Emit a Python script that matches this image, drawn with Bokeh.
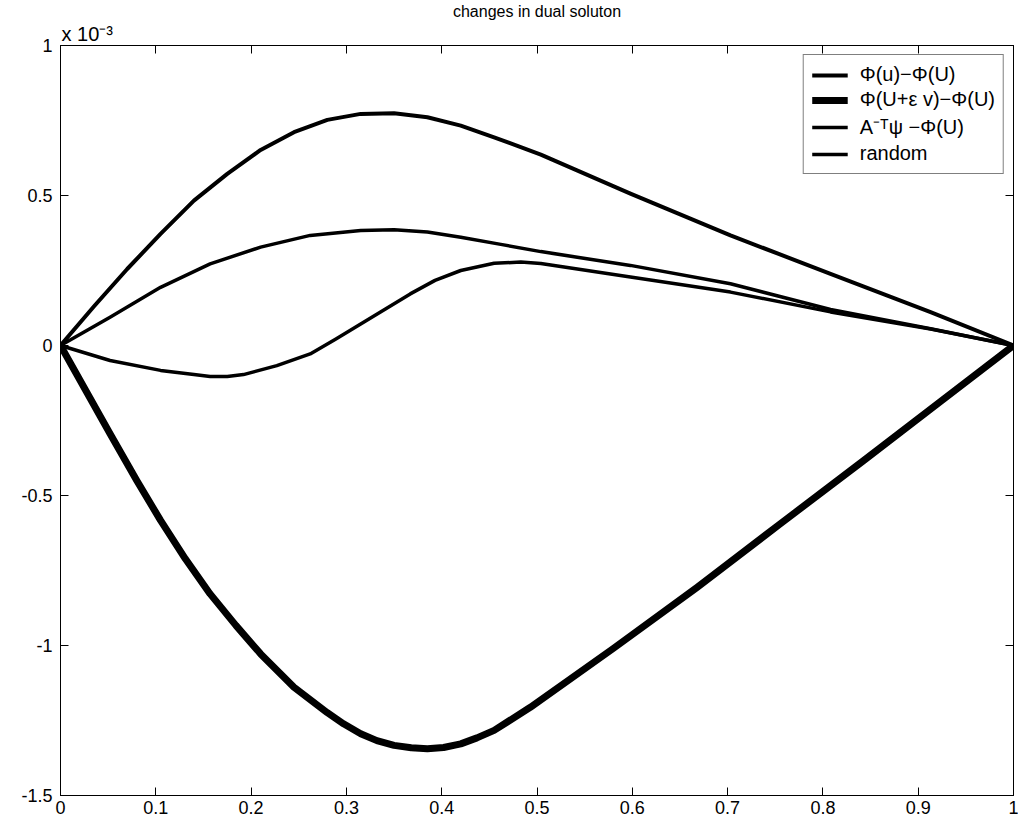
from bokeh.plotting import figure
from bokeh.models import Range1d, LinearAxis, FixedTicker, Legend, LegendItem, Title
from bokeh.embed import file_html
from bokeh.resources import INLINE

FONT = "Liberation Sans"

# ---- data (y values in units of 1e-3) ----
x_phi_u = [0.0, 0.035, 0.070, 0.105, 0.140, 0.175, 0.210, 0.245, 0.280, 0.315, 0.350,
           0.385, 0.420, 0.455, 0.504, 0.598, 0.703, 0.808, 0.913, 1.0]
y_phi_u = [0.0, 0.130, 0.255, 0.372, 0.483, 0.572, 0.652, 0.711, 0.752, 0.772, 0.774,
           0.761, 0.733, 0.694, 0.636, 0.506, 0.367, 0.239, 0.111, 0.0]

x_phi_ev = [0.0, 0.052, 0.080, 0.105, 0.131, 0.157, 0.184, 0.210, 0.245, 0.280, 0.297,
            0.315, 0.332, 0.350, 0.368, 0.385, 0.402, 0.420, 0.437, 0.455, 0.493,
            0.580, 0.668, 0.755, 0.843, 0.920, 1.0]
y_phi_ev = [0.0, -0.294, -0.450, -0.583, -0.711, -0.828, -0.933, -1.028, -1.139, -1.224,
            -1.261, -1.294, -1.317, -1.333, -1.341, -1.344, -1.340, -1.328, -1.308,
            -1.283, -1.206, -1.010, -0.806, -0.595, -0.383, -0.195, 0.0]

x_adj = [0.0, 0.052, 0.105, 0.157, 0.210, 0.262, 0.315, 0.350, 0.385, 0.420, 0.462,
         0.504, 0.598, 0.703, 0.808, 0.913, 1.0]
y_adj = [0.0, 0.094, 0.194, 0.272, 0.328, 0.367, 0.383, 0.386, 0.378, 0.361, 0.337,
         0.313, 0.267, 0.206, 0.120, 0.056, 0.0]

x_rand = [0.0, 0.052, 0.105, 0.140, 0.157, 0.175, 0.192, 0.227, 0.262, 0.289, 0.315,
          0.341, 0.367, 0.393, 0.420, 0.455, 0.483, 0.504, 0.598, 0.703, 0.808, 0.913, 1.0]
y_rand = [0.0, -0.050, -0.083, -0.097, -0.103, -0.103, -0.097, -0.067, -0.028, 0.022,
          0.072, 0.122, 0.172, 0.217, 0.250, 0.274, 0.278, 0.273, 0.228, 0.178, 0.112,
          0.055, 0.0]

series_labels = ["\u03a6(u)\u2212\u03a6(U)", "\u03a6(U+\u03b5 v)\u2212\u03a6(U)",
                 "A\u207b\u1d40\u03c8 \u2212\u03a6(U)", "random"]

x_ticks = [0, 0.1, 0.2, 0.3, 0.4, 0.5, 0.6, 0.7, 0.8, 0.9, 1]
x_tick_labels = ["0", "0.1", "0.2", "0.3", "0.4", "0.5", "0.6", "0.7", "0.8", "0.9", "1"]
y_ticks = [-1.5, -1, -0.5, 0, 0.5, 1]
y_tick_labels = ["-1.5", "-1", "-0.5", "0", "0.5", "1"]

title_text = "changes in dual soluton"
exponent_text = "x 10\u207b\u00b3"

# ---- figure ----
p = figure(width=1018, height=823, output_backend="svg", toolbar_location=None,
           x_range=Range1d(0, 1), y_range=Range1d(-1.5, 1),
           min_border_left=60, min_border_right=5, min_border_top=45, min_border_bottom=28)
p.title.text = title_text
p.title.align = "center"
p.title.text_font = FONT
p.title.text_font_size = "16px"
p.title.text_font_style = "normal"
p.title.text_color = "black"
p.title.standoff = 0
p.grid.visible = False
p.background_fill_color = "white"
p.border_fill_color = "white"
p.outline_line_color = "black"
p.outline_line_width = 1


def style_axis(ax, ticks, labels, show_labels=True):
    ax.ticker = FixedTicker(ticks=ticks)
    ax.major_label_overrides = {t: l for t, l in zip(ticks, labels)}
    ax.major_tick_in = 8
    ax.major_tick_out = 0
    ax.minor_tick_line_color = None
    ax.axis_line_color = "black"
    ax.major_tick_line_color = "black"
    ax.major_label_text_font = FONT
    ax.major_label_text_color = "black"
    if show_labels:
        ax.major_label_text_font_size = "18px"
    else:
        ax.major_label_text_font_size = "0px"
        ax.major_label_standoff = 0


style_axis(p.xaxis[0], x_ticks, x_tick_labels)
p.xaxis[0].major_label_standoff = 5
style_axis(p.yaxis[0], y_ticks, y_tick_labels)
p.yaxis[0].major_label_standoff = 8

ax_top = LinearAxis()
style_axis(ax_top, x_ticks, [""] * len(x_ticks), show_labels=False)
p.add_layout(ax_top, "above")
ax_right = LinearAxis()
style_axis(ax_right, y_ticks, [""] * len(y_ticks), show_labels=False)
p.add_layout(ax_right, "right")

exp_title = Title(text=exponent_text, align="left", text_font=FONT,
                  text_font_size="20px", text_font_style="normal",
                  text_color="black", standoff=2, offset=1)
p.add_layout(exp_title, "above")

r1 = p.line(x_phi_u, y_phi_u, line_color="black", line_width=4, line_join="round")
r2 = p.line(x_phi_ev, y_phi_ev, line_color="black", line_width=7, line_join="round")
r3 = p.line(x_adj, y_adj, line_color="black", line_width=3.5, line_join="round")
r4 = p.line(x_rand, y_rand, line_color="black", line_width=3.5, line_join="round")

legend = Legend(items=[LegendItem(label=lab, renderers=[r])
                       for lab, r in zip(series_labels, [r1, r2, r3, r4])],
                location="top_right")
legend.label_text_font = FONT
legend.label_text_font_size = "20px"
legend.label_text_color = "black"
legend.glyph_width = 36
legend.glyph_height = 20
legend.label_height = 20
legend.label_standoff = 12
legend.spacing = 2
legend.padding = 8
legend.margin = 9
legend.border_line_color = "black"
legend.border_line_width = 1
legend.background_fill_color = "white"
legend.background_fill_alpha = 1
p.add_layout(legend)

open("out.html", "w").write(file_html(p, INLINE))
